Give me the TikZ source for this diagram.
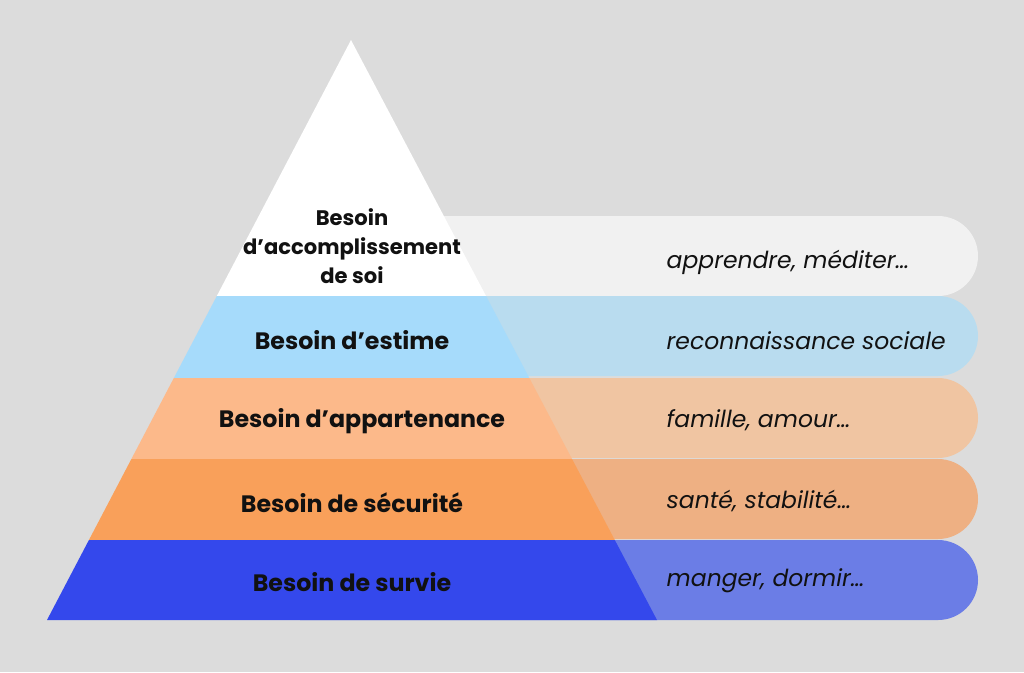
\documentclass[tikz,border=0pt]{standalone}
\usepackage{fontspec}
\setmainfont{Poppins}
\usetikzlibrary{positioning}
\definecolor{fond}{HTML}{DCDCDC}
\definecolor{pSoi}{HTML}{FFFFFF}
\definecolor{pEst}{HTML}{A6DBFB}
\definecolor{pApp}{HTML}{FCB98A}
\definecolor{pSec}{HTML}{F9A05A}
\definecolor{pSur}{HTML}{3448EC}
\definecolor{bSoi}{HTML}{F1F1F1}
\definecolor{bEst}{HTML}{B9DCEF}
\definecolor{bApp}{HTML}{F0C5A2}
\definecolor{bSec}{HTML}{EEB083}
\definecolor{bSur}{HTML}{6B7DE6}
\definecolor{texte}{HTML}{111111}
\begin{document}
\begin{tikzpicture}[x=0.75pt,y=-0.75pt,
    niveau/.style={font=\fontsize{17.8}{21}\selectfont\bfseries,text=texte,align=center},
    exemple/.style={font=\fontsize{17.6}{20}\selectfont\itshape,text=texte,anchor=west}]
  \fill[fond] (0,0) rectangle (1024,672);
  \useasboundingbox (0,0) rectangle (1024,672);
  % bandes de droite
  \foreach \yt/\col in {216/bSoi,296/bEst,378/bApp,459/bSec,540/bSur}
    \fill[\col] (300,\yt) -- (938,\yt) arc[start angle=-90,end angle=90,radius=40] -- (300,\yt+80) -- cycle;
  % pyramide
  \coordinate (sommet) at (351,40);
  \coordinate (baseG) at (47,620);
  \coordinate (baseD) at (657,620);
  \foreach \yt/\yb/\col in {40/296/pSoi,296/378/pEst,378/459/pApp,459/540/pSec,540/620/pSur}
    \fill[\col] ({47+(620-\yt)/580*304},\yt) -- ({351+(\yt-40)/580*306},\yt)
      -- ({351+(\yb-40)/580*306},\yb) -- ({47+(620-\yb)/580*304},\yb) -- cycle;
  % textes
  \node[niveau,font=\fontsize{15.8}{21.5}\selectfont\bfseries] (soi) at (352,246) {Besoin\\d’accomplissement\\de soi};
  \node[niveau] (estime) at (352,340) {Besoin d’estime};
  \node[niveau] (appart) at (362,421) {Besoin d’appartenance};
  \node[niveau] (secu) at (352,503) {Besoin de sécurité};
  \node[niveau] (survie) at (352,582) {Besoin de survie};
  \node[exemple] (exSoi) at (662,262) {apprendre, méditer…};
  \node[exemple] (exEst) at (662,341) {reconnaissance sociale};
  \node[exemple] (exApp) at (662,420) {famille, amour…};
  \node[exemple] (exSec) at (662,501) {santé, stabilité…};
  \node[exemple] (exSur) at (662,581) {manger, dormir…};
\end{tikzpicture}
\end{document}
